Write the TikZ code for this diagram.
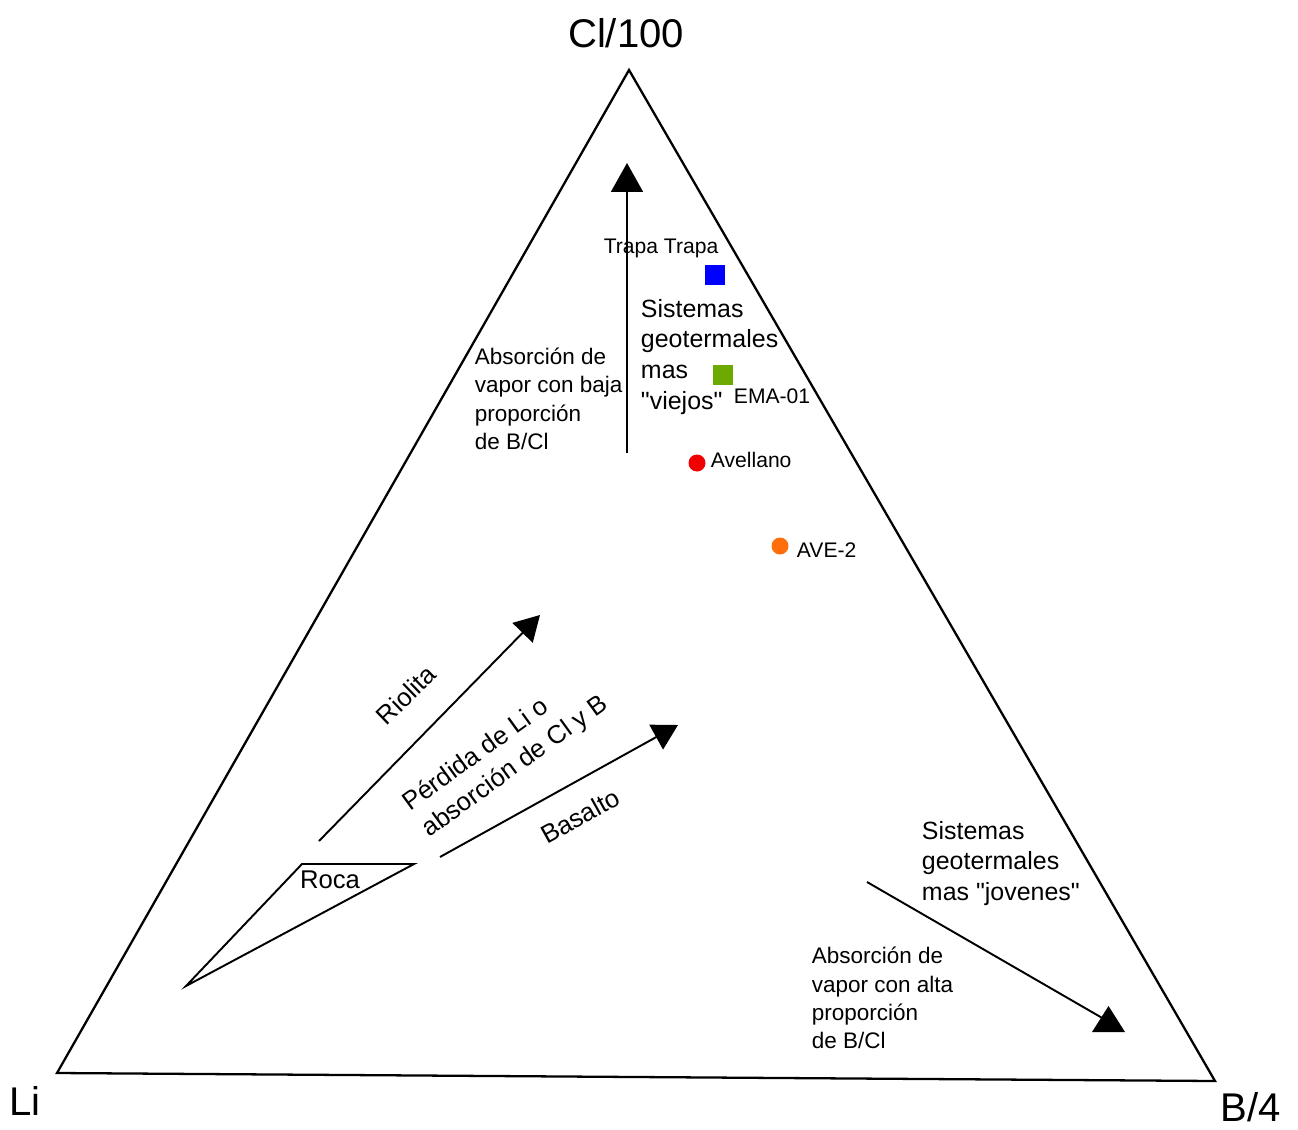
\documentclass[tikz,border=0pt]{standalone}
\usepackage{fontspec}
\setmainfont{Liberation Sans}
\usepackage{tikz}
\usetikzlibrary{arrows.meta}
\definecolor{trapablue}{RGB}{0,0,255}
\definecolor{emagreen}{RGB}{108,170,0}
\definecolor{avered}{RGB}{240,0,0}
\definecolor{aveorange}{RGB}{255,110,10}

\begin{document}
\begin{tikzpicture}[x=0.02cm, y=-0.02cm, line width=1.1pt,
	corner text/.style={font=\fontsize{22.8}{26}\selectfont, inner sep=0pt},
	point text/.style={font=\fontsize{12}{14}\selectfont, inner sep=0pt},
	note text/.style={font=\fontsize{12.8}{16.2}\selectfont, align=left, inner sep=0pt, anchor=north west},
	group text/.style={font=\fontsize{14.2}{17.6}\selectfont, align=left, inner sep=0pt, anchor=north west},
	trend text/.style={font=\fontsize{14.6}{18.4}\selectfont, inner sep=0pt},
	flow/.style={-{Triangle[length=0.5cm, width=0.56cm]}},
	flow up/.style={-{Triangle[length=0.58cm, width=0.64cm]}},
	sq/.style={rectangle, inner sep=0pt, minimum size=0.4cm},
	dot/.style={circle, inner sep=0pt, minimum size=0.34cm},
	]
	\useasboundingbox (0,0) rectangle (1298,1129);
	
	% ternario
	\coordinate (cl) at (629,70);
	\coordinate (li) at (57,1073);
	\coordinate (b4) at (1215,1081);
	\draw[line width=1.3pt, line join=miter] (cl) -- (li) -- (b4) -- cycle;
	
	\node[corner text] (cl label) at (626,33) {Cl/100};
	\node[corner text] (li label) at (25,1101) {Li};
	\node[corner text] (b4 label) at (1251,1107) {B/4};
	
	% roca
	\coordinate (roca tip) at (186,986);
	\coordinate (roca nw) at (302,864);
	\coordinate (roca ne) at (414,864);
	\draw (roca tip) -- (roca nw) -- (roca ne) -- cycle;
	\node[trend text] (roca) at (330,880) {Roca};
	
	% tendencias
	\coordinate (rio start) at (319,841);
	\coordinate (rio end) at (540,615);
	\draw[flow] (rio start) -- (rio end);
	\node[trend text, rotate=44] (riolita) at (406,695) {Riolita};
	
	\coordinate (bas start) at (440,857);
	\coordinate (bas end) at (678,725);
	\draw[flow] (bas start) -- (bas end);
	\node[trend text, rotate=29] (basalto) at (580,816) {Basalto};
	
	\node[trend text, rotate=36, align=left] (perdida) at (506,754)
		{Pérdida de Li o\\absorción de Cl y B};
	
	\coordinate (old start) at (627,453);
	\coordinate (old end) at (627,163);
	\draw[flow up] (old start) -- (old end);
	\node[note text] (baja) at (474,347) {Absorción de\\vapor con baja\\proporción\\de B/Cl};
	\node[group text] (viejos) at (640,298) {Sistemas\\geotermales\\mas\\\textquotedbl viejos\textquotedbl};
	
	\coordinate (young start) at (867,882);
	\coordinate (young end) at (1104,1019);
	\draw (young start) -- (young end);
	\fill (1092,1032) -- (1125,1032) -- (1108.5,1006) -- cycle;
	\node[group text] (jovenes) at (921,820) {Sistemas\\geotermales\\mas \textquotedbl jovenes\textquotedbl};
	\node[note text] (alta) at (811,946) {Absorción de\\vapor con alta\\proporción\\de B/Cl};
	
	% muestras
	\node[sq, fill=trapablue] (trapa) at (715,275) {};
	\node[point text] (trapa label) at (661,248) {Trapa Trapa};
	\node[sq, fill=emagreen] (ema) at (723,375) {};
	\node[point text, anchor=west] (ema label) at (733,396) {EMA-01};
	\node[dot, fill=avered] (avellano) at (697,463) {};
	\node[point text, anchor=west] (avellano label) at (710,460) {Avellano};
	\node[dot, fill=aveorange] (ave2) at (780,546) {};
	\node[point text, anchor=west] (ave2 label) at (796,550) {AVE-2};
\end{tikzpicture}
\end{document}
